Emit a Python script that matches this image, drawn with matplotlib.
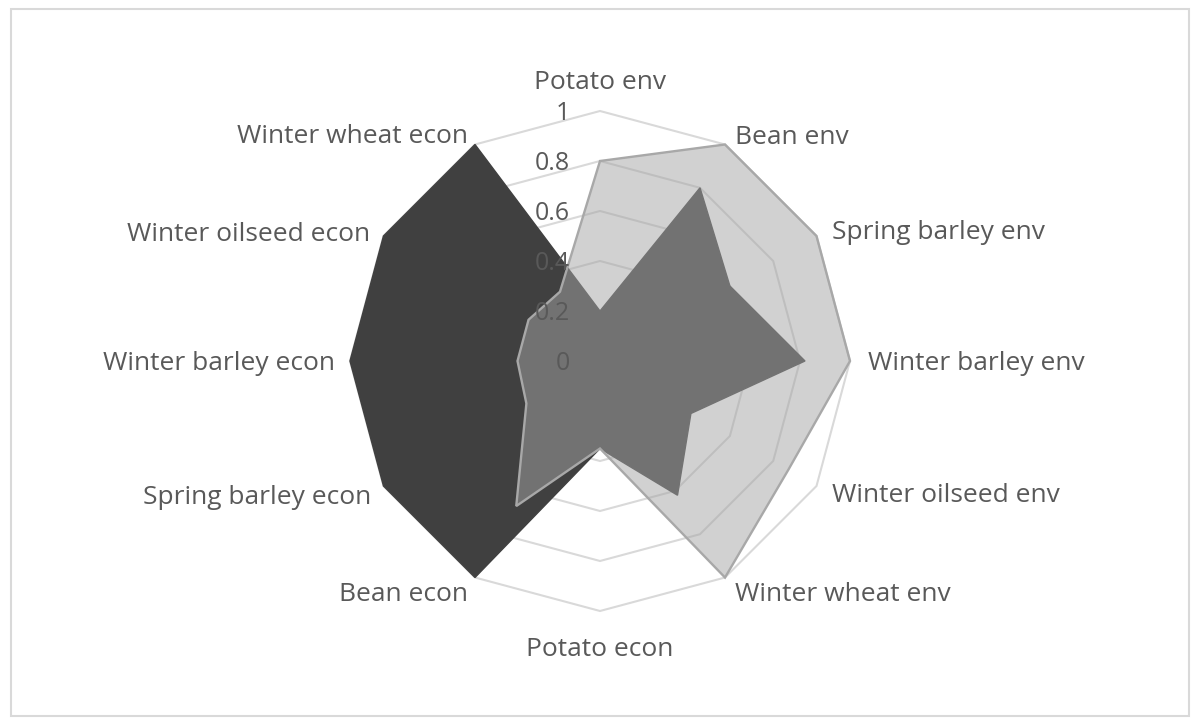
import numpy as np
import matplotlib
matplotlib.use('Agg')
import matplotlib.pyplot as plt
from matplotlib.patches import Polygon, Rectangle

# radar categories, clockwise from the top
categories = ["Potato env", "Bean env", "Spring barley env", "Winter barley env",
              "Winter oilseed env", "Winter wheat env", "Potato econ", "Bean econ",
              "Spring barley econ", "Winter barley econ", "Winter oilseed econ",
              "Winter wheat econ"]

# series values
econ_series = [0.20, 0.80, 0.60, 0.82, 0.42, 0.62, 0.35, 1.00, 1.00, 1.00, 1.00, 1.00]
env_series = [0.80, 1.00, 1.00, 1.00, 0.87, 1.00, 0.35, 0.67, 0.34, 0.33, 0.33, 0.32]

ring_values = [0.2, 0.4, 0.6, 0.8, 1.0]
tick_labels = ["0", "0.2", "0.4", "0.6", "0.8", "1"]

# label offsets in pixels from the outer ring vertex (layout only)
label_offsets = [(0, 28), (10, 7), (15, 3), (18, -3), (15, -10), (10, -17),
                 (0, -38), (-7, -17), (-12, -11), (-15, -3), (-13, 1), (-7, 8)]

TEXT = '#595959'
plt.rcParams['font.family'] = ['Open Sans', 'DejaVu Sans']

n = len(categories)
theta = np.arange(n) * 2 * np.pi / n


def to_xy(values):
    r = np.asarray(values, dtype=float)
    return np.column_stack([r * np.sin(theta), r * np.cos(theta)])


fig = plt.figure(figsize=(12, 7.25), dpi=100)
ax = fig.add_axes([0, 0, 1, 1])
ax.set_xlim(-600 / 250, 600 / 250)
ax.set_ylim(-364 / 250, 361 / 250)
ax.axis('off')

# polygon grid rings
for rv in ring_values:
    ax.add_patch(Polygon(to_xy([rv] * n), closed=True, fill=False,
                         edgecolor='#D9D9D9', lw=1.5, zorder=1))

# econ series (opaque dark) then env series (semi-transparent on top)
ax.add_patch(Polygon(to_xy(econ_series), closed=True, facecolor='#404040',
                     edgecolor='#404040', lw=1.0, zorder=2))
ax.add_patch(Polygon(to_xy(env_series), closed=True, facecolor='#A5A5A5',
                     alpha=0.5, edgecolor='none', zorder=3))
ax.add_patch(Polygon(to_xy(env_series), closed=True, fill=False,
                     edgecolor='#A8A8A8', lw=1.7, joinstyle='miter', zorder=4))

# category labels
outer = to_xy([1.0] * n)
for i, name in enumerate(categories):
    dx, dy = label_offsets[i]
    s = np.sin(theta[i])
    ha = 'center' if abs(s) < 1e-6 else ('left' if s > 0 else 'right')
    ax.annotate(name, xy=outer[i], xytext=(dx, dy), textcoords='offset pixels',
                ha=ha, va='center', fontsize=19, color=TEXT, zorder=6)

# value axis labels along the top spoke
for v, lab in zip([0.0] + ring_values, tick_labels):
    ax.annotate(lab, xy=(0, v), xytext=(-30, -3), textcoords='offset pixels',
                ha='right', va='center', fontsize=18, color=TEXT, zorder=6)

# chart area border
fig.patches.append(Rectangle((11 / 1200, 9 / 725), 1178 / 1200, 707 / 725,
                             transform=fig.transFigure, fill=False,
                             edgecolor='#D9D9D9', lw=1.5))

fig.savefig('out.png', dpi=100)
